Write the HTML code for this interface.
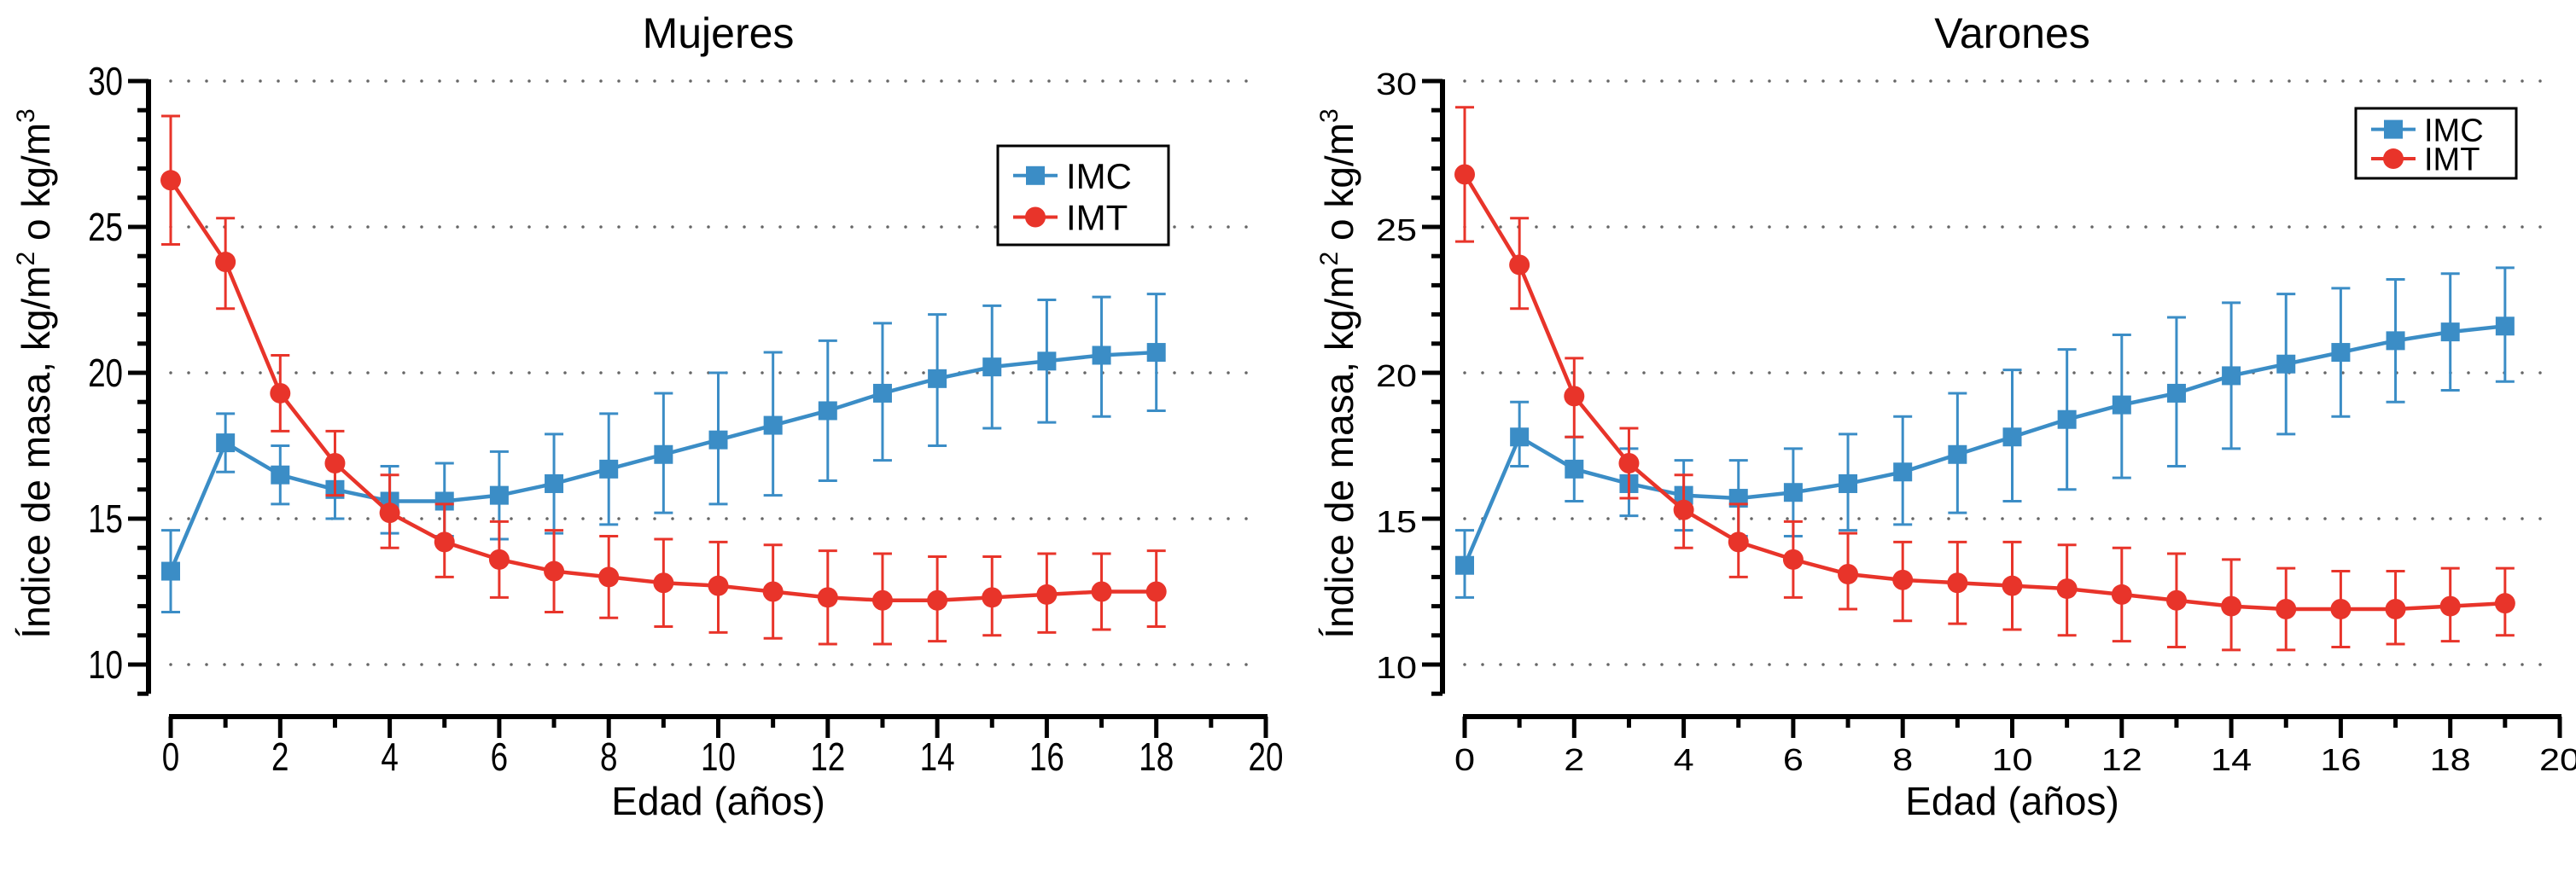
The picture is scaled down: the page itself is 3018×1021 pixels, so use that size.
<!DOCTYPE html>
<html><head><meta charset="utf-8"><style>
html,body{margin:0;padding:0;background:#fff;}
svg{display:block;font-family:"Liberation Sans",sans-serif;}
</style></head><body>
<svg id="chart" width="3018" height="1021" viewBox="0 0 3018 1021" xmlns="http://www.w3.org/2000/svg"></svg>
<script>
const yTicks=[10,15,20,25,30];
const xTicks=[0,2,4,6,8,10,12,14,16,18,20];
const agesW=[0,1,2,3,4,5,6,7,8,9,10,11,12,13,14,15,16,17,18];
const imcW=[13.2,17.6,16.5,16.0,15.6,15.6,15.8,16.2,16.7,17.2,17.7,18.2,18.7,19.3,19.8,20.2,20.4,20.6,20.7];
const imcWLo=[11.8,16.6,15.5,15.0,14.5,14.4,14.3,14.5,14.8,15.2,15.5,15.8,16.3,17.0,17.5,18.1,18.3,18.5,18.7];
const imcWHi=[14.6,18.6,17.5,17.0,16.8,16.9,17.3,17.9,18.6,19.3,20.0,20.7,21.1,21.7,22.0,22.3,22.5,22.6,22.7];
const imtW=[26.6,23.8,19.3,16.9,15.2,14.2,13.6,13.2,13.0,12.8,12.7,12.5,12.3,12.2,12.2,12.3,12.4,12.5,12.5];
const imtWLo=[24.4,22.2,18.0,15.8,14.0,13.0,12.3,11.8,11.6,11.3,11.1,10.9,10.7,10.7,10.8,11.0,11.1,11.2,11.3];
const imtWHi=[28.8,25.3,20.6,18.0,16.5,15.5,14.9,14.6,14.4,14.3,14.2,14.1,13.9,13.8,13.7,13.7,13.8,13.8,13.9];
const agesM=[0,1,2,3,4,5,6,7,8,9,10,11,12,13,14,15,16,17,18,19];
const imcM=[13.4,17.8,16.7,16.2,15.8,15.7,15.9,16.2,16.6,17.2,17.8,18.4,18.9,19.3,19.9,20.3,20.7,21.1,21.4,21.6];
const imcMLo=[12.3,16.8,15.6,15.1,14.6,14.4,14.4,14.6,14.8,15.2,15.6,16.0,16.4,16.8,17.4,17.9,18.5,19.0,19.4,19.7];
const imcMHi=[14.6,19.0,17.8,17.4,17.0,17.0,17.4,17.9,18.5,19.3,20.1,20.8,21.3,21.9,22.4,22.7,22.9,23.2,23.4,23.6];
const imtM=[26.8,23.7,19.2,16.9,15.3,14.2,13.6,13.1,12.9,12.8,12.7,12.6,12.4,12.2,12.0,11.9,11.9,11.9,12.0,12.1];
const imtMLo=[24.5,22.2,17.8,15.7,14.0,13.0,12.3,11.9,11.5,11.4,11.2,11.0,10.8,10.6,10.5,10.5,10.6,10.7,10.8,11.0];
const imtMHi=[29.1,25.3,20.5,18.1,16.5,15.5,14.9,14.5,14.2,14.2,14.2,14.1,14.0,13.8,13.6,13.3,13.2,13.2,13.3,13.3];

const NS="http://www.w3.org/2000/svg";
const svg=document.getElementById('chart');
function mk(tag,attrs,parent,text){const e=document.createElementNS(NS,tag);for(const k in attrs)e.setAttribute(k,attrs[k]);if(text!==undefined)e.textContent=text;(parent||svg).appendChild(e);return e;}
const BLUE="#3b8dc6",RED="#e8342a";

function panel(cfg){
  const g=mk('g',{});
  
  
  const X=v=>cfg.x0+v*64.15;
  const Y=v=>779-(v-10)*34.2;
  const sx=cfg.sx;
  yTicks.forEach(t=>{const l=mk('line',{x1:X(0),x2:X(0)+1275,y1:Y(t),y2:Y(t),stroke:'#666','stroke-width':3.5,'stroke-dasharray':'0 21','stroke-linecap':'round'},g);
    
    });
  const ya=mk('line',{x1:cfg.ax,x2:cfg.ax,y1:Y(30)-2,y2:Y(9),stroke:'#000','stroke-width':6},g);
  
  
  for(let v=9;v<=30;v++){const major=v%5===0;mk('line',{x1:cfg.ax-(major?24:13),x2:cfg.ax,y1:Y(v),y2:Y(v),stroke:'#000','stroke-width':5},g);}
  yTicks.forEach(t=>{const ax=cfg.ax-30;const tx=mk('text',{x:ax,y:Y(t)+16,'text-anchor':'end','font-size':cfg.tickFs,transform:`translate(${ax},0) scale(${sx},1) translate(${-ax},0)`},g,String(t));
    
    });
  const xa=mk('line',{x1:X(0)-2,x2:X(20)+2,y1:840,y2:840,stroke:'#000','stroke-width':6},g);
  
  
  for(let v=0;v<=20;v++){const major=v%2===0;mk('line',{x1:X(v),x2:X(v),y1:840,y2:840+(major?25:13),stroke:'#000','stroke-width':5},g);}
  xTicks.forEach(t=>{const tx=mk('text',{x:X(t),y:903,'text-anchor':'middle','font-size':cfg.tickFs,transform:`translate(${X(t)},0) scale(${sx},1) translate(${-X(t)},0)`},g,String(t));
    
    });
  const xt=mk('text',{x:X(10),y:955,'text-anchor':'middle','font-size':46},g,'Edad (años)');
  
  
  const yt=mk('text',{x:0,y:0,'text-anchor':'middle','font-size':46,transform:`translate(${cfg.ytx},438) rotate(-90)`},g);
  
  
  yt.innerHTML='Índice de masa, kg/m<tspan dy="-18" font-size="30">2</tspan><tspan dy="18"> o kg/m</tspan><tspan dy="-18" font-size="30">3</tspan>';
  const ti=mk('text',{x:X(10),y:56,'text-anchor':'middle','font-size':50},g,cfg.title);
  
  
  function series(ages,vals,lo,hi,color,kind,nm){
    const sg=mk('g',{},g);
    
    
    ages.forEach((a,i)=>{const x=X(a);
      mk('line',{x1:x,x2:x,y1:Y(lo[i]),y2:Y(hi[i]),stroke:color,'stroke-width':3},sg);
      mk('line',{x1:x-11,x2:x+11,y1:Y(lo[i]),y2:Y(lo[i]),stroke:color,'stroke-width':3},sg);
      mk('line',{x1:x-11,x2:x+11,y1:Y(hi[i]),y2:Y(hi[i]),stroke:color,'stroke-width':3},sg);});
    const pts=ages.map((a,i)=>X(a)+','+Y(vals[i])).join(' ');
    const pl=mk('polyline',{points:pts,fill:'none',stroke:color,'stroke-width':4.5},sg);
    
    
    ages.forEach((a,i)=>{let m;
      if(kind==='sq')m=mk('rect',{x:X(a)-11,y:Y(vals[i])-11,width:22,height:22,fill:color},sg);
      else m=mk('circle',{cx:X(a),cy:Y(vals[i]),r:12,fill:color},sg);
      
      });
  }
  series(cfg.ages,cfg.imc,cfg.imcLo,cfg.imcHi,BLUE,'sq','imc');
  series(cfg.ages,cfg.imt,cfg.imtLo,cfg.imtHi,RED,'ci','imt');
  const L=cfg.leg;
  const lg=mk('g',{},g);
  
  
  mk('rect',{x:L.x,y:L.y,width:L.w,height:L.h,fill:'#fff',stroke:'#000','stroke-width':3},lg);
  const r1=L.y+L.h*0.3,r2=L.y+L.h*0.72;
  const e1=mk('g',{},lg);
  
  
  mk('line',{x1:L.x+18,x2:L.x+70,y1:r1,y2:r1,stroke:BLUE,'stroke-width':4},e1);
  mk('rect',{x:L.x+33,y:r1-11,width:22,height:22,fill:BLUE},e1);
  mk('text',{x:L.x+80,y:r1+L.fs*0.36,'font-size':L.fs},e1,'IMC');
  const e2=mk('g',{},lg);
  
  
  mk('line',{x1:L.x+18,x2:L.x+70,y1:r2,y2:r2,stroke:RED,'stroke-width':4},e2);
  mk('circle',{cx:L.x+44,cy:r2,r:12,fill:RED},e2);
  mk('text',{x:L.x+80,y:r2+L.fs*0.36,'font-size':L.fs},e2,'IMT');
}
panel({name:'panel-mujeres',title:'Mujeres',x0:200,ax:174,ytx:58,tickFs:46,sx:0.8,
  ages:agesW,imc:imcW,imcLo:imcWLo,imcHi:imcWHi,imt:imtW,imtLo:imtWLo,imtHi:imtWHi,
  leg:{x:1169,y:171,w:200,h:116,fs:42}});
panel({name:'panel-varones',title:'Varones',x0:1716,ax:1690,ytx:1585,tickFs:36,sx:1.2,
  ages:agesM,imc:imcM,imcLo:imcMLo,imcHi:imcMHi,imt:imtM,imtLo:imtMLo,imtHi:imtMHi,
  leg:{x:2760,y:127,w:188,h:82,fs:38}});
</script>
</body></html>
